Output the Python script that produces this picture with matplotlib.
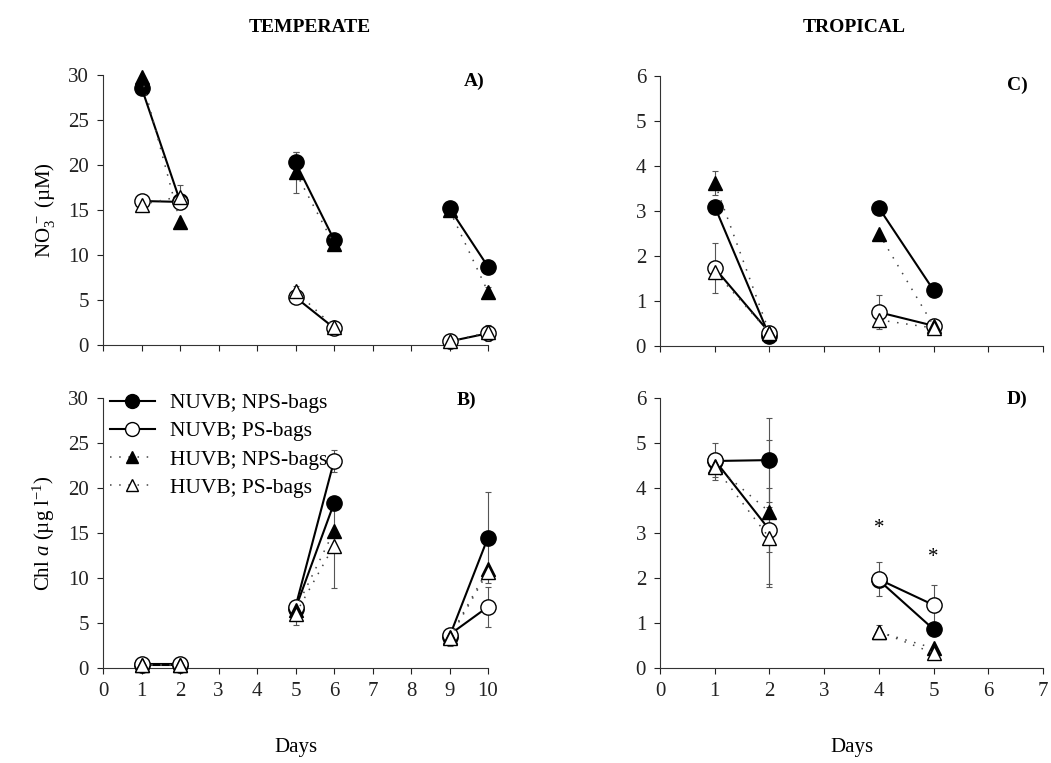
import numpy as np
import matplotlib
matplotlib.use("Agg")
import matplotlib.pyplot as plt
from matplotlib.lines import Line2D

plt.rcParams['font.family'] = ['Liberation Serif', 'DejaVu Serif']
plt.rcParams['mathtext.fontset'] = 'custom'
plt.rcParams['mathtext.rm'] = 'Liberation Serif'
plt.rcParams['mathtext.it'] = 'Liberation Serif:italic'

# ---------------- data ----------------
days_temp = [1, 2, 5, 6, 9, 10]
days_trop = [1, 2, 4, 5]

series_labels = ["NUVB; NPS-bags", "NUVB; PS-bags", "HUVB; NPS-bags", "HUVB; PS-bags"]

# A) temperate NO3- (uM)
a_nuvb_nps = [28.6, 16.0, 20.3, 11.7, 15.2, 8.7]
a_nuvb_ps = [16.0, 15.9, 5.3, 1.9, 0.4, 1.3]
a_huvb_nps = [29.8, 13.7, 19.2, 11.2, 15.0, 5.9]
a_huvb_ps = [15.6, 16.5, 6.0, 2.0, 0.4, 1.4]
a_err_nuvb_nps = [0, 0, 1.1, 0, 0, 0]
a_err_nuvb_ps = [0, 0.8, 0, 0, 0, 0.8]
a_err_huvb_nps = [0, 0, 2.3, 0, 0, 0.6]
a_err_huvb_ps = [0, 1.3, 0.6, 0, 0, 0.8]

# B) temperate Chl a (ug/l)
b_nuvb_nps = [0.3, 0.3, 6.6, 18.3, 3.5, 14.5]
b_nuvb_ps = [0.4, 0.4, 6.8, 23.0, 3.7, 6.8]
b_huvb_nps = [0.3, 0.3, 6.5, 15.2, 3.4, 11.0]
b_huvb_ps = [0.3, 0.3, 6.0, 13.6, 3.3, 10.7]
b_err_nuvb_nps = [0, 0, 0, 0, 0, 5.1]
b_err_nuvb_ps = [0, 0, 0, 1.2, 0, 2.2]
b_err_huvb_nps = [0, 0, 0, 0, 0, 0]
b_err_huvb_ps = [0, 0, 1.2, 4.7, 0.8, 0]

# C) tropical NO3- (uM)
c_nuvb_nps = [3.1, 0.22, 3.07, 1.24]
c_nuvb_ps = [1.73, 0.3, 0.75, 0.45]
c_huvb_nps = [3.62, 0.3, 2.5, 0.45]
c_huvb_ps = [1.65, 0.3, 0.58, 0.4]
c_err_nuvb_nps = [0, 0, 0, 0]
c_err_nuvb_ps = [0.55, 0, 0.38, 0]
c_err_huvb_nps = [0.27, 0, 0, 0]
c_err_huvb_ps = [0, 0, 0, 0]

# D) tropical Chl a (ug/l)
d_nuvb_nps = [4.6, 4.62, 1.95, 0.86]
d_nuvb_ps = [4.62, 3.07, 1.97, 1.4]
d_huvb_nps = [4.5, 3.47, 0.8, 0.44]
d_huvb_ps = [4.47, 2.89, 0.81, 0.33]
d_err_nuvb_nps = [0, 0.93, 0, 0]
d_err_nuvb_ps = [0.38, 0.5, 0.38, 0.45]
d_err_huvb_nps = [0, 1.6, 0, 0]
d_err_huvb_ps = [0.3, 1.1, 0.15, 0]

star_days = [4, 5]
star_vals = [3.1, 2.45]

# ---------------- styles ----------------
dot = (0, (1, 5))
styles = [
    dict(marker='o', mfc='black', mec='black', ls='-', lw=1.5, lc='black', ms=11),
    dict(marker='o', mfc='white', mec='black', ls='-', lw=1.5, lc='black', ms=11),
    dict(marker='^', mfc='black', mec='black', ls=dot, lw=1.1, lc='#444444', ms=10),
    dict(marker='^', mfc='white', mec='black', ls=dot, lw=1.1, lc='#444444', ms=10),
]

fig = plt.figure(figsize=(10.51, 7.63), dpi=100)
W, H = 1051, 763

def make_ax(x0, x1, ytop, ybot):
    return fig.add_axes([x0 / W, 1 - ybot / H, (x1 - x0) / W, (ybot - ytop) / H])

axA = make_ax(103, 488, 75, 345)
axB = make_ax(103, 488, 398, 668)
axC = make_ax(660, 1043, 76, 346)
axD = make_ax(660, 1043, 398, 668)

def draw(ax, days, vals, errs):
    days = np.array(days, dtype=float)
    npairs = len(days) // 2
    for i, (v, e, st) in enumerate(zip(vals, errs, styles)):
        v = np.array(v, dtype=float)
        e = np.array(e, dtype=float)
        for p in range(npairs):
            sl = slice(2 * p, 2 * p + 2)
            ax.plot(days[sl], v[sl], color=st['lc'], linestyle=st['ls'], lw=st['lw'],
                    zorder=2 + i, clip_on=False)
        mask = e > 0
        if mask.any():
            eb = ax.errorbar(days[mask], v[mask], yerr=e[mask], fmt='none', ecolor='#555555',
                             elinewidth=0.8, capsize=2.5, capthick=0.8, zorder=1.5)
            for art in eb.lines[1] + eb.lines[2]:
                art.set_clip_on(False)
        ax.plot(days, v, linestyle='none', marker=st['marker'], mfc=st['mfc'],
                mec=st['mec'], ms=st['ms'], mew=1.0, zorder=3 + i, clip_on=False)

draw(axA, days_temp, [a_nuvb_nps, a_nuvb_ps, a_huvb_nps, a_huvb_ps],
     [a_err_nuvb_nps, a_err_nuvb_ps, a_err_huvb_nps, a_err_huvb_ps])
draw(axB, days_temp, [b_nuvb_nps, b_nuvb_ps, b_huvb_nps, b_huvb_ps],
     [b_err_nuvb_nps, b_err_nuvb_ps, b_err_huvb_nps, b_err_huvb_ps])
draw(axC, days_trop, [c_nuvb_nps, c_nuvb_ps, c_huvb_nps, c_huvb_ps],
     [c_err_nuvb_nps, c_err_nuvb_ps, c_err_huvb_nps, c_err_huvb_ps])
draw(axD, days_trop, [d_nuvb_nps, d_nuvb_ps, d_huvb_nps, d_huvb_ps],
     [d_err_nuvb_nps, d_err_nuvb_ps, d_err_huvb_nps, d_err_huvb_ps])

for x, y in zip(star_days, star_vals):
    axD.text(x, y, '*', ha='center', va='center', fontsize=15)

for ax in (axA, axB):
    ax.set_xlim(0, 10)
    ax.set_ylim(0, 30)
    ax.set_xticks(range(0, 11))
    ax.set_yticks(range(0, 31, 5))
for ax in (axC, axD):
    ax.set_xlim(0, 7)
    ax.set_ylim(0, 6)
    ax.set_xticks(range(0, 8))
    ax.set_yticks(range(0, 7))

for ax in (axA, axB, axC, axD):
    for s in ('top', 'right'):
        ax.spines[s].set_visible(False)
    for s in ('left', 'bottom'):
        ax.spines[s].set_linewidth(0.8)
        ax.spines[s].set_color('#333333')
    ax.tick_params(direction='out', length=4, width=0.8, labelsize=15, pad=6,
                   colors='#222222')
    ax.patch.set_alpha(0)

axA.tick_params(axis='x', labelbottom=False)
axC.tick_params(axis='x', labelbottom=False)

axB.set_xlabel('Days', fontsize=15, labelpad=27)
axD.set_xlabel('Days', fontsize=15, labelpad=27)
axA.set_ylabel(r'NO$_3^{\,-}$ (µM)', fontsize=15, labelpad=8)
axB.set_ylabel(r'Chl $a$ (µg l$^{-1}$)', fontsize=15, labelpad=8)

fig.text(310 / W, 1 - 28 / H, 'TEMPERATE', ha='center', va='center',
         fontsize=14, fontweight='bold')
fig.text(854 / W, 1 - 28 / H, 'TROPICAL', ha='center', va='center',
         fontsize=14, fontweight='bold')

axA.text(0.99, 0.975, 'A)', transform=axA.transAxes, ha='right', va='center',
         fontsize=14, fontweight='bold')
axB.text(0.97, 0.99, 'B)', transform=axB.transAxes, ha='right', va='center',
         fontsize=14, fontweight='bold')
axC.text(0.96, 0.965, 'C)', transform=axC.transAxes, ha='right', va='center',
         fontsize=14, fontweight='bold')
axD.text(0.96, 0.995, 'D)', transform=axD.transAxes, ha='right', va='center',
         fontsize=14, fontweight='bold')

handles = [Line2D([0], [0], color=st['lc'], linestyle=st['ls'], lw=st['lw'],
                  marker=st['marker'], mfc=st['mfc'], mec=st['mec'], ms=st['ms'] - 1)
           for st in styles]
axB.legend(handles, series_labels, loc='upper left', bbox_to_anchor=(-0.005, 1.05),
           frameon=False, fontsize=15.5, handlelength=2.1, handletextpad=0.7,
           labelspacing=0.38, borderaxespad=0.0)

fig.savefig('out.png', dpi=100)
